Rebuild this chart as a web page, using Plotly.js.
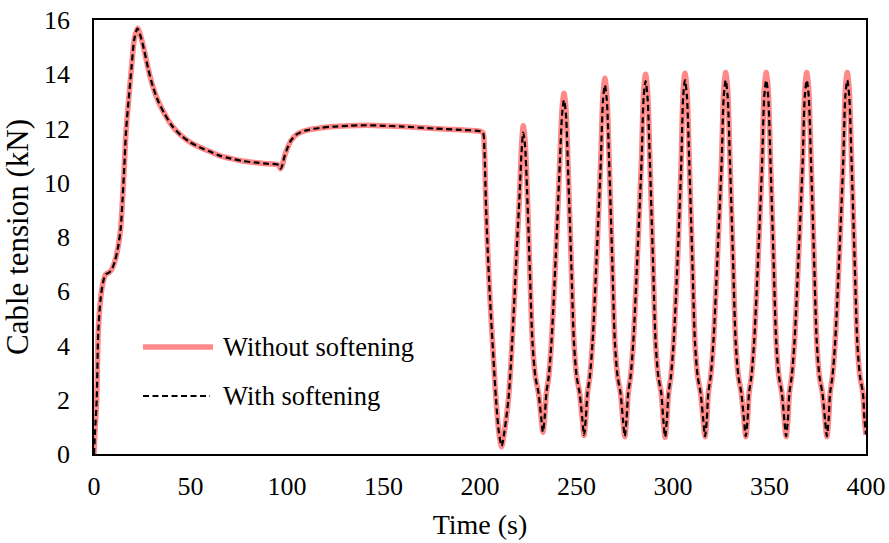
<!DOCTYPE html>
<html>
<head>
<meta charset="utf-8">
<script src="https://cdn.plot.ly/plotly-3.0.1.min.js"></script>
<style>
  html, body { margin: 0; padding: 0; background: #fff; }
  #chart { width: 889px; height: 543px; }
</style>
</head>
<body>
<div id="chart"></div>
<script>
// Time (s)
const timeS = [
  0, 0.5, 1.4, 2.2, 3.4, 4.6, 6, 8, 9.5, 11, 12.4, 13.8, 14.8, 15.7, 16.6, 18, 19.5, 20.9, 22.5,
  24, 26, 28.1, 30.5, 33.3, 36.5, 40.2, 45, 49.7, 55, 60.1, 65, 70.5, 77, 84.3, 90, 94.7,
  95.8, 96.7, 97.6, 98.6, 99.8, 102, 105, 110, 117, 124, 132, 141, 150, 160, 176, 190, 200,
  201.5, 202.3, 203, 204, 205.2, 207, 208.3, 209.8, 211.2, 212.6, 214.7, 216, 217.8, 219, 220.4, 221.5, 222.4,
  223.3, 224.4, 225.8, 227.2, 228.7, 230.3, 231.7, 232.6, 233.5, 234.4, 235.6, 237.0, 239.2, 241.4, 242.5, 243.5,
  244.5, 245.7, 247.3, 248.7, 250.1, 251.6, 253.0, 253.9, 254.8, 255.7, 256.9, 258.3, 260.4, 262.6, 263.7, 264.7,
  265.7, 266.9, 268.5, 269.9, 271.3, 272.8, 274.1, 275.0, 275.9, 276.8, 278.0, 279.4, 281.5, 283.7, 284.8, 285.8,
  286.8, 288.0, 289.6, 291.0, 292.4, 293.9, 295.0, 295.9, 296.8, 297.7, 298.9, 300.3, 302.4, 304.3, 305.3, 306.2,
  307.2, 308.4, 310.0, 311.4, 312.8, 314.3, 315.7, 316.6, 317.5, 318.3, 319.5, 320.9, 323.0, 325.2, 326.3, 327.3,
  328.3, 329.5, 331.1, 332.5, 333.9, 335.4, 336.8, 337.7, 338.6, 339.4, 340.6, 342.0, 344.1, 346.2, 347.3, 348.3,
  349.3, 350.5, 352.1, 353.5, 354.9, 356.4, 357.7, 358.6, 359.5, 360.3, 361.5, 362.9, 365.0, 367.2, 368.3, 369.3,
  370.3, 371.5, 373.1, 374.5, 375.9, 377.4, 378.8, 379.7, 380.6, 381.4, 382.6, 384.0, 386.1, 388.2, 389.3, 390.3,
  391.3, 392.5, 394.1, 395.5, 396.9, 398.4, 399.2, 400
];

// Cable tension (kN) without softening
const tensionWithout = [
  0, 0.8, 2.0, 4.5, 5.7, 6.3, 6.62, 6.7, 6.85, 7.15, 7.6, 8.3, 9.4, 10.6, 11.9, 13.1, 14.3, 15.3, 15.7,
  15.45, 14.9, 14.2, 13.55, 13.0, 12.55, 12.12, 11.75, 11.5, 11.3, 11.15, 11.0, 10.9, 10.8, 10.74, 10.7, 10.68,
  10.64, 10.52, 10.65, 10.95, 11.2, 11.55, 11.78, 11.93, 12.02, 12.07, 12.1, 12.12, 12.1, 12.07, 12.0, 11.95, 11.9,
  11.85, 11.2, 9.4, 7.5, 5.7, 3.5, 2.0, 0.8, 0.27, 0.8, 2.0, 3.3, 5.7, 7.5, 9.4, 11.3, 12.1,
  11.6, 9.8, 6.8, 4.1, 2.85, 2.25, 1.35, 0.8, 1.35, 2.25, 2.85, 4.1, 7.2, 10.9, 12.7, 13.3,
  12.75, 10.4, 7.0, 4.1, 2.85, 2.25, 1.3, 0.68, 1.3, 2.25, 2.85, 4.1, 7.2, 10.9, 13.2, 13.85,
  13.25, 10.9, 7.2, 4.1, 2.85, 2.25, 1.25, 0.64, 1.25, 2.25, 2.85, 4.1, 7.2, 10.9, 13.4, 14.0,
  13.4, 10.9, 7.2, 4.1, 2.85, 2.25, 1.25, 0.62, 1.25, 2.25, 2.85, 4.1, 7.2, 10.9, 13.45, 14.04,
  13.45, 10.9, 7.2, 4.1, 2.85, 2.25, 1.25, 0.64, 1.25, 2.25, 2.85, 4.1, 7.2, 10.9, 13.45, 14.06,
  13.45, 10.9, 7.2, 4.1, 2.85, 2.25, 1.25, 0.64, 1.25, 2.25, 2.85, 4.1, 7.2, 10.9, 13.45, 14.06,
  13.45, 10.9, 7.2, 4.1, 2.85, 2.25, 1.25, 0.64, 1.25, 2.25, 2.85, 4.1, 7.2, 10.9, 13.45, 14.06,
  13.45, 10.9, 7.2, 4.1, 2.85, 2.25, 1.25, 0.64, 1.25, 2.25, 2.85, 4.1, 7.2, 10.9, 13.45, 14.06,
  13.45, 10.9, 7.2, 4.1, 2.85, 2.25, 1.3, 0.7
];

// Cable tension (kN) with softening
const tensionWith = [
  0, 0.8, 2.0, 4.5, 5.7, 6.3, 6.62, 6.7, 6.85, 7.15, 7.6, 8.3, 9.4, 10.6, 11.9, 13.1, 14.3, 15.3, 15.68,
  15.43, 14.88, 14.2, 13.55, 13.0, 12.55, 12.12, 11.75, 11.5, 11.3, 11.15, 11.0, 10.9, 10.8, 10.74, 10.7, 10.68,
  10.64, 10.52, 10.65, 10.95, 11.2, 11.55, 11.78, 11.93, 12.02, 12.07, 12.1, 12.12, 12.1, 12.07, 12.0, 11.95, 11.9,
  11.85, 11.2, 9.4, 7.5, 5.7, 3.5, 2.0, 0.8, 0.3, 0.8, 2.0, 3.3, 5.7, 7.5, 9.4, 11.1, 11.85,
  11.4, 9.7, 6.8, 4.1, 2.85, 2.25, 1.35, 0.82, 1.35, 2.25, 2.85, 4.1, 7.2, 10.8, 12.5, 13.05,
  12.55, 10.3, 7.0, 4.1, 2.85, 2.25, 1.3, 0.7, 1.3, 2.25, 2.85, 4.1, 7.2, 10.8, 13.0, 13.6,
  13.05, 10.8, 7.2, 4.1, 2.85, 2.25, 1.25, 0.66, 1.25, 2.25, 2.85, 4.1, 7.2, 10.8, 13.15, 13.75,
  13.15, 10.8, 7.2, 4.1, 2.85, 2.25, 1.25, 0.64, 1.25, 2.25, 2.85, 4.1, 7.2, 10.8, 13.2, 13.78,
  13.2, 10.8, 7.2, 4.1, 2.85, 2.25, 1.25, 0.66, 1.25, 2.25, 2.85, 4.1, 7.2, 10.8, 13.2, 13.78,
  13.2, 10.8, 7.2, 4.1, 2.85, 2.25, 1.25, 0.66, 1.25, 2.25, 2.85, 4.1, 7.2, 10.8, 13.2, 13.78,
  13.2, 10.8, 7.2, 4.1, 2.85, 2.25, 1.25, 0.66, 1.25, 2.25, 2.85, 4.1, 7.2, 10.8, 13.2, 13.78,
  13.2, 10.8, 7.2, 4.1, 2.85, 2.25, 1.25, 0.66, 1.25, 2.25, 2.85, 4.1, 7.2, 10.8, 13.2, 13.78,
  13.2, 10.8, 7.2, 4.1, 2.85, 2.25, 1.3, 0.72
];

const seriesNames = ['Without softening', 'With softening'];
const xTickVals = [0, 50, 100, 150, 200, 250, 300, 350, 400];
const yTickVals = [0, 2, 4, 6, 8, 10, 12, 14, 16];

const PINK = 'rgb(255,136,136)';
const FONT = '"Liberation Serif", "Times New Roman", serif';

const traces = [
  {
    x: timeS, y: tensionWithout, name: seriesNames[0], type: 'scatter', mode: 'lines',
    line: { color: PINK, width: 5.5, shape: 'spline', smoothing: 0.8 },
    showlegend: false, hoverinfo: 'skip'
  },
  {
    x: timeS, y: tensionWith, name: seriesNames[1], type: 'scatter', mode: 'lines',
    line: { color: '#000000', width: 2.2, dash: '6px,3.5px', shape: 'spline', smoothing: 0.8 },
    showlegend: false, hoverinfo: 'skip'
  }
];

const layout = {
  width: 889, height: 543,
  margin: { l: 94, r: 23, t: 20, b: 89 },
  paper_bgcolor: '#ffffff', plot_bgcolor: '#ffffff',
  font: { family: FONT, size: 26, color: '#000000' },
  showlegend: false,
  xaxis: {
    range: [0, 400], tickvals: xTickVals, ticktext: xTickVals.map(String),
    showgrid: false, zeroline: false,
    showline: true, mirror: true, linecolor: '#000000', linewidth: 1.8,
    ticks: '', ticklabelstandoff: 8,
    tickfont: { family: FONT, size: 26, color: '#000000' },
    title: { text: 'Time (s)', font: { family: FONT, size: 28, color: '#000000' }, standoff: 14 }
  },
  yaxis: {
    range: [0, 16], tickvals: yTickVals, ticktext: yTickVals.map(String),
    showgrid: false, zeroline: false,
    showline: true, mirror: true, linecolor: '#000000', linewidth: 1.8,
    ticks: '', ticklabelstandoff: 17,
    tickfont: { family: FONT, size: 26, color: '#000000' },
    title: { text: 'Cable tension (kN)', font: { family: FONT, size: 31, color: '#000000' }, standoff: 7 }
  },
  shapes: [
    { type: 'line', xref: 'paper', yref: 'paper', x0: 0.0635, x1: 0.1541, y0: 0.2465, y1: 0.2465,
      line: { color: PINK, width: 5.5 } },
    { type: 'line', xref: 'paper', yref: 'paper', x0: 0.0635, x1: 0.1503, y0: 0.1336, y1: 0.1336,
      line: { color: '#000000', width: 2.2, dash: '6px,3.5px' } }
  ],
  annotations: [
    { xref: 'paper', yref: 'paper', x: 0.1645, y: 0.2465, xanchor: 'left', yanchor: 'middle',
      text: seriesNames[0], showarrow: false, font: { family: FONT, size: 26.5, color: '#000000' } },
    { xref: 'paper', yref: 'paper', x: 0.1645, y: 0.1336, xanchor: 'left', yanchor: 'middle',
      text: seriesNames[1], showarrow: false, font: { family: FONT, size: 26.5, color: '#000000' } }
  ]
};

Plotly.newPlot('chart', traces, layout, { staticPlot: true, displayModeBar: false });
</script>
</body>
</html>
